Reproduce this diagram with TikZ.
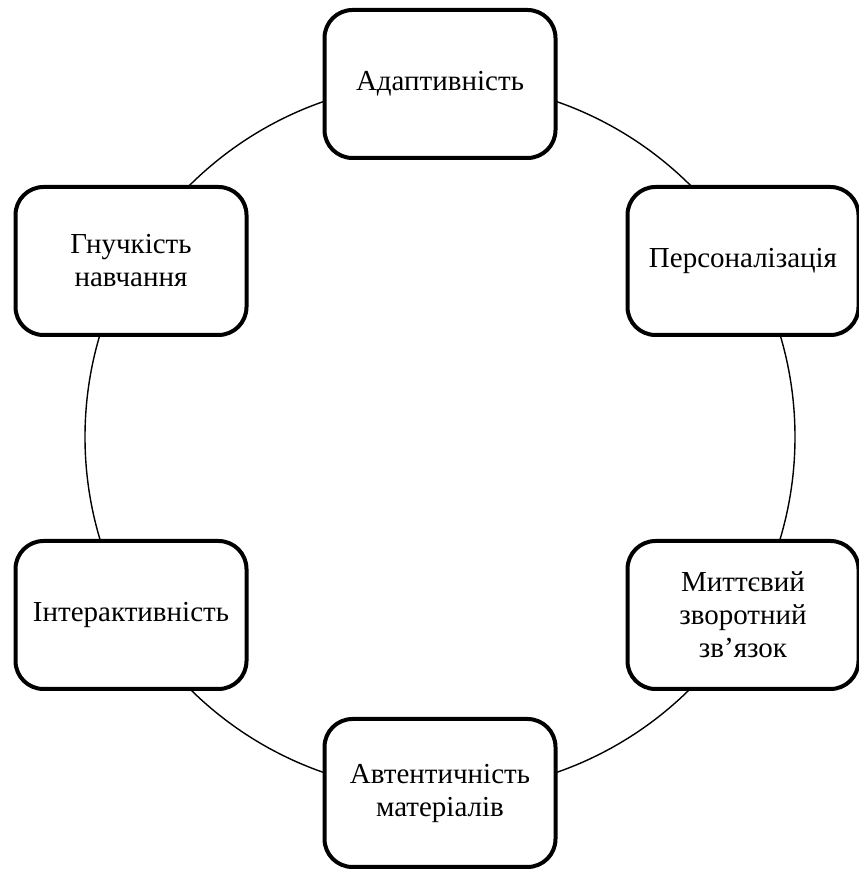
\documentclass[tikz,border=0pt]{standalone}
\usepackage{fontspec}
\setmainfont{Liberation Serif}
\begin{document}
\begin{tikzpicture}[x=1pt,y=1pt,
  itembox/.style={draw=black, fill=white, line width=4pt, rounded corners=28pt,
    minimum width=231pt, minimum height=148pt, align=center, inner sep=2pt,
    font=\fontsize{29}{33}\selectfont},
  ring/.style={draw=black, line width=1.4pt}]
\useasboundingbox (0,0) rectangle (859,870);
\coordinate (c) at (440,433);
\draw[ring] (c) circle (355);
\node[itembox] (a) at (440,786) {Адаптивність};
\node[itembox] (p) at (743,609) {Персоналізація};
\node[itembox] (m) at (743,255) {Миттєвий\\зворотний\\зв’язок};
\node[itembox] (v) at (440,77) {Автентичність\\матеріалів};
\node[itembox] (i) at (131,255) {Інтерактивність};
\node[itembox] (g) at (131,609) {Гнучкість\\навчання};
\end{tikzpicture}
\end{document}
